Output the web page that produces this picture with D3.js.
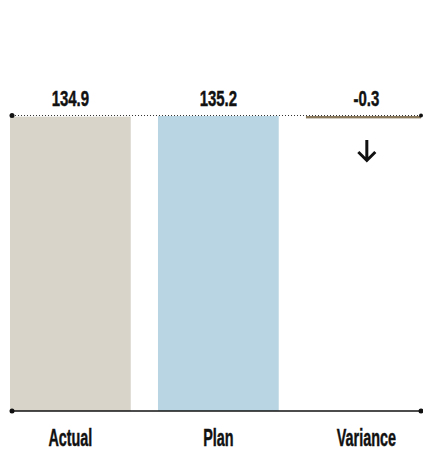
<!DOCTYPE html>
<html><head><meta charset="utf-8">
<script src="https://cdn.jsdelivr.net/npm/d3@7"></script>
<style>
html,body{margin:0;padding:0;background:#fff;}
svg{display:block;}
text{font-family:"Liberation Sans",Arial,sans-serif;font-weight:bold;fill:#111;stroke:#111;stroke-width:0.45px;}
</style></head><body>
<svg id="c" width="423" height="449"></svg>
<script>
const categories = ["Actual", "Plan", "Variance"];
const actualValue = 134.9;
const planValue = 135.2;
const varianceValue = -0.3;
const valueLabels = ["134.9", "135.2", "-0.3"];

const svg = d3.select("#c");
const x = d3.scaleBand().domain(categories).range([10, 426.7]).paddingInner(0.184).paddingOuter(0);
const y = d3.scaleLinear().domain([0, planValue]).range([411, 116]);
const lineL = 12, lineR = 421;

// bars
svg.append("rect").attr("x", x("Actual")).attr("width", x.bandwidth())
  .attr("y", y(actualValue)).attr("height", y(0) - y(actualValue)).attr("fill", "#d8d4ca");
svg.append("rect").attr("x", x("Plan")).attr("width", x.bandwidth())
  .attr("y", y(planValue)).attr("height", y(0) - y(planValue)).attr("fill", "#b9d5e3");
// variance bar: from plan down to actual
const vTop = y(planValue), vBot = y(planValue + varianceValue);
svg.append("rect").attr("x", x("Variance")).attr("width", Math.min(x.bandwidth(), lineR - x("Variance")))
  .attr("y", vTop).attr("height", Math.max(2.4, vBot - vTop)).attr("fill", "#8b7a5e");

// dotted reference line at plan level
svg.append("line").attr("x1", lineL).attr("x2", lineR).attr("y1", y(planValue) - 0.5).attr("y2", y(planValue) - 0.5)
  .attr("stroke", "#333").attr("stroke-width", 1).attr("stroke-dasharray", "1,2");
svg.append("circle").attr("cx", lineL).attr("cy", y(planValue) - 0.5).attr("r", 2.5).attr("fill", "#111");
svg.append("circle").attr("cx", lineR).attr("cy", y(planValue) - 0.5).attr("r", 2).attr("fill", "#111");

// baseline axis
svg.append("line").attr("x1", lineL).attr("x2", lineR).attr("y1", y(0)).attr("y2", y(0))
  .attr("stroke", "#111").attr("stroke-width", 1.5);
svg.append("circle").attr("cx", lineL).attr("cy", y(0)).attr("r", 2.5).attr("fill", "#111");
svg.append("circle").attr("cx", lineR).attr("cy", y(0)).attr("r", 2.5).attr("fill", "#111");

// value labels and category labels
const cx = c => x(c) + x.bandwidth() / 2;
categories.forEach((c, i) => {
  svg.append("text").attr("transform", `translate(${cx(c)},106) scale(0.68,1)`)
    .attr("text-anchor", "middle").attr("font-size", 22).text(valueLabels[i]);
  svg.append("text").attr("transform", `translate(${cx(c)},445.5) scale(0.6,1)`)
    .attr("text-anchor", "middle").attr("font-size", 24).text(c);
});

// down arrow for negative variance
const ax = cx("Variance") + 0.5, ay0 = 140, ay1 = 161;
svg.append("path").attr("d", `M${ax},${ay0}V${ay1 - 1.5}M${ax - 8.5},${ay1 - 9}L${ax},${ay1 - 0.5}L${ax + 8.5},${ay1 - 9}`)
  .attr("fill", "none").attr("stroke", "#111").attr("stroke-width", 3).attr("stroke-linecap", "butt");
</script>
</body></html>
